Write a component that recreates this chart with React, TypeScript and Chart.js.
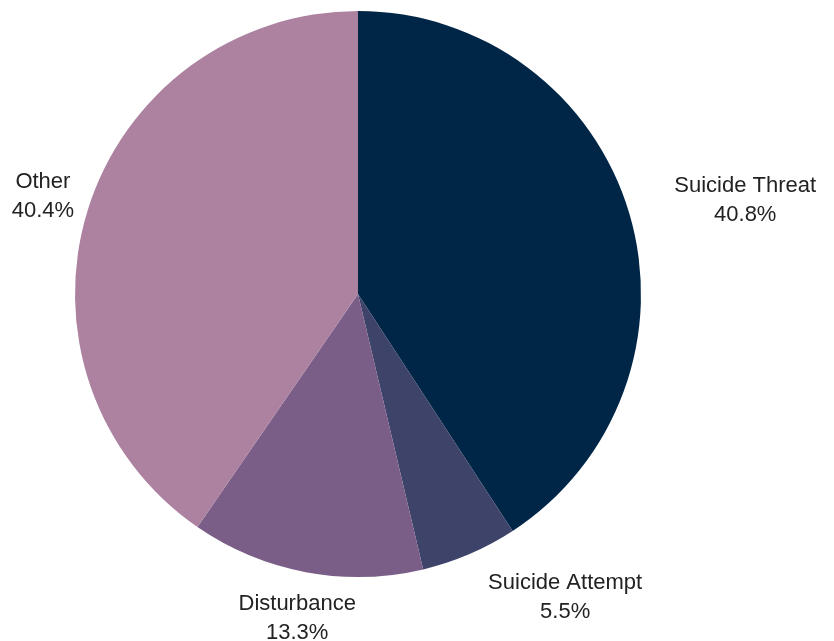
import React, { useEffect, useRef } from "react";
import { Chart, registerables } from "chart.js";

Chart.register(...registerables);

const categories = ["Suicide Threat", "Suicide Attempt", "Disturbance", "Other"];
const values = [40.8, 5.5, 13.3, 40.4];
const colors = ["#002647", "#3d4369", "#7a5e88", "#ad82a1"];

const outsideLabels = {
  id: "outsideLabels",
  afterDatasetsDraw(chart: any) {
    const ctx = chart.ctx;
    const meta = chart.getDatasetMeta(0);
    const data = chart.data.datasets[0].data as number[];
    ctx.save();
    ctx.font = "22px 'Liberation Sans', Arial, sans-serif";
    ctx.fillStyle = "#222222";
    ctx.textBaseline = "middle";
    ctx.textAlign = "center";
    meta.data.forEach((arc: any, i: number) => {
      const { x, y, startAngle, endAngle, outerRadius } = arc.getProps(
        ["x", "y", "startAngle", "endAngle", "outerRadius"],
        true
      );
      const mid = (startAngle + endAngle) / 2;
      const dx = Math.cos(mid);
      const dy = Math.sin(mid);
      const R = outerRadius + 47;
      const line1 = String(chart.data.labels[i]);
      const line2 = data[i].toFixed(1) + "%";
      const w = Math.max(ctx.measureText(line1).width, ctx.measureText(line2).width);
      const px = x + R * dx + (dx >= 0 ? w / 2 : 0);
      const py = y + R * dy;
      ctx.fillText(line1, px, py - 14.5);
      ctx.fillText(line2, px, py + 14.5);
    });
    ctx.restore();
  },
};

export default function App() {
  const ref = useRef<HTMLCanvasElement>(null);
  useEffect(() => {
    if (!ref.current) return;
    const chart = new Chart(ref.current, {
      type: "pie",
      data: {
        labels: categories,
        datasets: [
          {
            data: values,
            backgroundColor: colors,
            borderWidth: 0,
          },
        ],
      },
      options: {
        animation: false,
        responsive: true,
        maintainAspectRatio: false,
        layout: { padding: { left: 75, right: 193, top: 11, bottom: 64 } },
        plugins: {
          legend: { display: false },
          tooltip: { enabled: false },
        },
      },
      plugins: [outsideLabels],
    });
    return () => chart.destroy();
  }, []);
  return (
    <div
      style={{
        position: "fixed",
        left: 0,
        top: 0,
        width: 834,
        height: 641,
        background: "#ffffff",
      }}
    >
      <canvas ref={ref} />
    </div>
  );
}
